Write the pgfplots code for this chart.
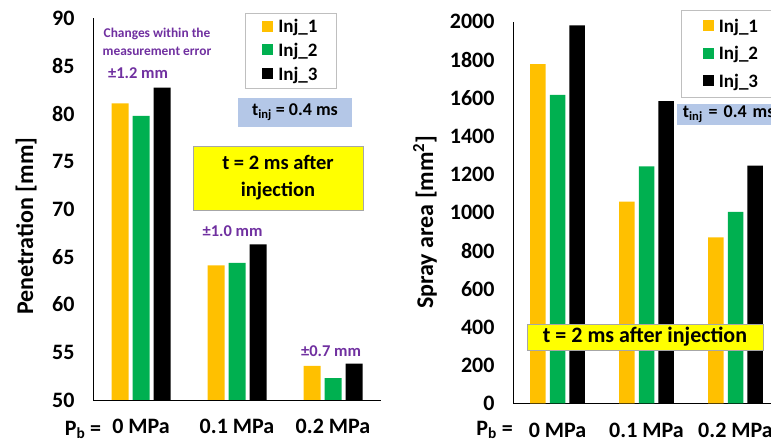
\documentclass[border=0pt]{standalone}
\usepackage{fontspec}
\setmainfont{Carlito}
\usepackage{pgfplots}
\pgfplotsset{compat=1.18}
\definecolor{cOr}{HTML}{FFC000}
\definecolor{cGr}{HTML}{00B050}
\definecolor{cPu}{HTML}{7030A0}
\definecolor{cBl}{HTML}{B4C7E7}
\definecolor{cYe}{HTML}{FFFF00}
\pgfplotsset{
  mybar/.style={
    scale only axis, ybar, anchor=south west,
    axis x line*=bottom, axis y line*=left,
    axis line style={line width=0.8pt},
    major tick length=0pt,
    xmin=-0.5, xmax=2.5, xtick={0,1,2},
    xticklabels={0 MPa, 0.1 MPa, 0.2 MPa},
    /pgf/number format/assume math mode=true,
    /pgf/number format/1000 sep={},
    scaled y ticks=false,
    tick label style={font=\bfseries\fontsize{22}{26}\selectfont},
    xticklabel style={yshift=-16pt},
    yticklabel style={xshift=-15pt},
    label style={font=\bfseries\fontsize{24}{28}\selectfont},
    legend cell align=left,
  }
}
\begin{document}
\begin{tikzpicture}
\useasboundingbox (0pt,0pt) rectangle (771pt,443pt);
\clip (0pt,0pt) rectangle (771pt,443pt);
% ---------- left ----------
\begin{axis}[mybar,
  at={(93pt,43pt)}, width=288pt, height=382pt,
  ymin=50, ymax=90, ytick={50,55,...,90},
  bar width=17pt,
  ylabel={Penetration [mm]},
  ylabel style={at={(axis description cs:-0.2326,0.455)}, anchor=center},
  legend image code/.code={\fill[#1] (0pt,-5pt) rectangle (11pt,6pt); \path (14pt,0pt);},
  legend style={at={(0.528,1.013)}, anchor=north west, draw=gray!50,
    font=\bfseries\fontsize{19}{23}\selectfont, row sep=5pt,
    inner xsep=17pt, inner ysep=4pt},
]
\addplot[fill=cOr, draw=none, bar shift=-21pt] coordinates {(0,81.07) (1,64.1) (2,53.56)};
\addplot[fill=cGr, draw=none, bar shift=0pt] coordinates {(0,79.74) (1,64.35) (2,52.3)};
\addplot[fill=black, draw=none, bar shift=21pt] coordinates {(0,82.7) (1,66.3) (2,53.8)};
\legend{Inj\_1, Inj\_2, Inj\_3}
\end{axis}
% ---------- right ----------
\begin{axis}[mybar,
  at={(513pt,39.7pt)}, width=267pt, height=381.6pt,
  ymin=0, ymax=2000, ytick={0,200,...,2000},
  bar width=15.5pt,
  ylabel={Spray area [mm\textsuperscript{2}]},
  ylabel style={at={(axis description cs:-0.33,0.475)}, anchor=center},
  legend image code/.code={\fill[#1] (0pt,-5pt) rectangle (11pt,6pt); \path (14pt,0pt);},
  legend style={at={(0.628,1.031)}, anchor=north west, draw=gray!50,
    font=\bfseries\fontsize{19}{23}\selectfont, row sep=8.5pt,
    inner xsep=22pt, inner ysep=7pt},
]
\addplot[fill=cOr, draw=none, bar shift=-19.7pt] coordinates {(0,1778) (1,1057) (2,870)};
\addplot[fill=cGr, draw=none, bar shift=0pt] coordinates {(0,1616) (1,1242) (2,1003)};
\addplot[fill=black, draw=none, bar shift=19.7pt] coordinates {(0,1981) (1,1584) (2,1245)};
\legend{Inj\_1, Inj\_2, Inj\_3}
\end{axis}
% ---------- annotations ----------
\node[font=\bfseries\fontsize{22}{26}\selectfont] at (83pt,13pt) {P\textsubscript{b} =};
\node[font=\bfseries\fontsize{22}{26}\selectfont] at (494.5pt,13pt) {P\textsubscript{b} =};
\node[text=cPu, align=center, font=\bfseries\fontsize{13.4}{17.5}\selectfont] at (157pt,401pt) {Changes within the\\measurement error};
\node[text=cPu, font=\bfseries\fontsize{16.5}{19}\selectfont] at (138pt,370pt) {±1.2 mm};
\node[text=cPu, font=\bfseries\fontsize{16.5}{19}\selectfont] at (232.5pt,212pt) {±1.0 mm};
\node[text=cPu, font=\bfseries\fontsize{16.5}{19}\selectfont] at (331pt,92pt) {±0.7 mm};
\node[fill=cBl, minimum width=114pt, minimum height=29pt, inner sep=0pt, font=\bfseries\fontsize{18}{21}\selectfont] at (295pt,330.5pt) {t\textsubscript{inj} = 0.4 ms};
\node[fill=cBl, anchor=west, minimum height=20.7pt, text width=110pt, align=left, inner xsep=6pt, inner ysep=0pt, font=\bfseries\fontsize{18}{21}\selectfont] at (676.7pt,328.7pt) {t\textsubscript{inj} = 0.4 ms};
\node[fill=cYe, draw=gray!70, minimum width=170pt, minimum height=64pt, inner sep=0pt, align=center, font=\bfseries\fontsize{20.5}{27}\selectfont] at (278pt,265pt) {t = 2 ms after\\injection};
\node[fill=cYe, draw=gray!70, minimum width=236pt, minimum height=26pt, inner sep=0pt, font=\bfseries\fontsize{22}{26}\selectfont] at (645pt,106pt) {t = 2 ms after injection};
\end{tikzpicture}
\end{document}
